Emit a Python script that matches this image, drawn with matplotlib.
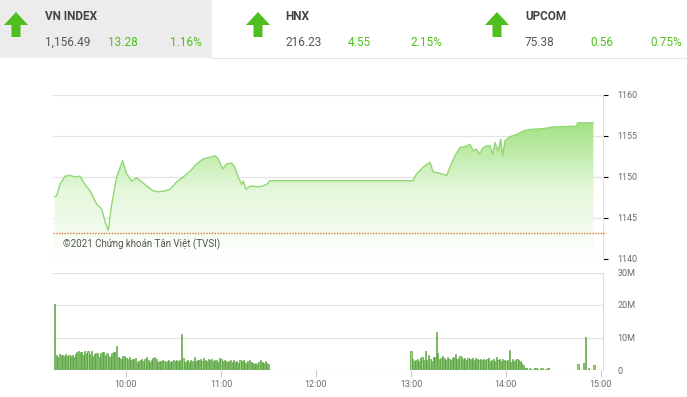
import matplotlib.pyplot as plt
import matplotlib.patches as patches
import numpy as np

plt.rcParams['font.family'] = ['Roboto', 'DejaVu Sans']

# ---- data ----
# minutes after 09:00 and index level
t_price = [15, 16.2, 18.3, 21.5, 24.6, 27.8, 30.9, 34.1, 37.3, 41.5, 44.7, 46.7, 48.8,
           51.0, 54.1, 57.9, 60.4, 63.6, 66.8, 69.9, 73.1, 77.2, 80.4, 84.6, 87.8,
           92.0, 96.2, 100.4, 104.7, 108.8, 113.1, 116.2, 118.3, 121.1, 123.6, 126.8,
           128.8, 130.9, 133.1, 134.1, 135.8, 138.3, 144.6, 148.9, 151.0, 241.3,
           243.6, 247.8, 252.0, 254.1, 257.3, 262.6, 264.6, 267.8, 271.0, 274.1,
           277.3, 279.4, 281.5, 283.2, 285.7, 287.8, 289.9, 291.6, 293.1, 295.1,
           296.7, 297.9, 299.4, 302.5, 306.8, 310.9, 315.2, 323.6, 329.9, 344.7,
           345.1, 355.2]
price = [1147.6, 1147.7, 1149.1, 1150.1, 1150.2, 1150.0, 1150.1, 1149.1, 1148.3, 1146.7,
         1146.1, 1144.6, 1143.5, 1146.7, 1150.0, 1152.0, 1150.4, 1149.5, 1149.9, 1149.4,
         1148.9, 1148.3, 1148.2, 1148.3, 1148.5, 1149.4, 1150.0, 1150.7, 1151.6, 1152.2,
         1152.4, 1152.6, 1152.2, 1151.0, 1151.6, 1151.7, 1151.2, 1150.0, 1149.1, 1149.5,
         1148.5, 1148.9, 1148.8, 1149.1, 1149.55, 1149.55, 1150.4, 1151.2, 1151.8, 1150.6,
         1150.5, 1150.2, 1151.2, 1152.6, 1153.6, 1153.7, 1154.0, 1153.2, 1153.4, 1152.8,
         1153.6, 1153.8, 1153.8, 1152.8, 1154.2, 1153.2, 1154.6, 1152.6, 1154.4, 1154.9,
         1155.2, 1155.6, 1155.8, 1155.9, 1156.1, 1156.2, 1156.6, 1156.6]
ref_level = 1143.21

# volume in millions, one bar per minute
vol_morning = [20.3, 4.5, 4.0, 4.8, 4.6, 4.7, 4.2, 4.9, 4.4, 4.6,
               4.3, 4.5, 4.1, 4.8, 5.5, 5.7, 5.6, 5.4, 4.7, 6.0,
               5.2, 5.8, 5.0, 5.7, 4.3, 4.9, 5.1, 5.2, 4.0, 5.2,
               5.5, 5.6, 4.6, 5.1, 4.4, 4.0, 5.3, 5.6, 5.4, 7.3,
               4.0, 3.8, 3.5, 4.2, 4.4, 3.6, 3.3, 3.9, 3.1, 3.4,
               3.3, 3.6, 2.5, 2.9, 3.1, 3.4, 2.7, 3.5, 4.0, 3.1,
               2.6, 3.2, 3.7, 4.1, 3.5, 2.4, 2.8, 2.7, 3.0, 2.9,
               2.5, 2.9, 3.2, 2.6, 2.9, 3.0, 2.8, 3.1, 2.7, 3.2,
               11.2, 3.8, 2.5, 2.9, 3.2, 2.6, 3.0, 2.8, 3.9, 2.7,
               3.2, 3.0, 3.5, 2.9, 3.6, 3.1, 2.8, 3.3, 3.0, 3.4,
               2.9, 3.2, 3.0, 2.6, 3.7, 3.4, 2.8, 3.1, 2.7, 2.5,
               2.9, 3.2, 2.4, 3.0, 2.6, 2.8, 2.3, 3.1, 2.7, 3.2,
               2.6, 2.2, 2.9, 3.0, 2.5, 2.1, 2.0, 2.3, 1.9, 2.4,
               3.1, 2.6, 2.3, 2.8, 2.2, 1.8]
vol_afternoon = [6.0, 3.3, 2.8, 3.0, 3.5, 2.9, 3.6, 4.0, 3.2, 5.7,
                 3.1, 4.6, 3.4, 2.8, 3.9, 4.1, 11.6, 5.2, 3.5, 3.8,
                 4.3, 3.6, 3.2, 4.0, 3.5, 3.0, 3.7, 4.1, 4.9, 3.4,
                 3.8, 4.2, 3.9, 3.3, 3.6, 3.2, 3.7, 3.5, 3.4, 3.8,
                 3.1, 3.6, 3.3, 3.0, 3.5, 3.2, 3.4, 3.0, 3.3, 3.6,
                 2.9, 3.2, 3.5, 2.8, 3.9, 3.1, 3.4, 2.7, 3.3, 3.0,
                 2.8, 3.1, 6.2, 2.6, 3.3, 2.8, 3.1, 3.4, 3.0, 2.7,
                 2.2, 1.4, 0.6, 0.5, 0.0, 0.6, 0.4, 0.0, 0.5, 0.7,
                 0.3, 0.0, 0.5, 0.6, 0.0, 0.4, 0.5, 0.7]
t_late = [345.5, 349.0, 350.5, 352.4, 355.6]
vol_late = [1.9, 2.1, 10.2, 0.5, 1.6]

hour_ticks = [60, 120, 180, 240, 300, 360]
hour_labels = ["10:00", "11:00", "12:00", "13:00", "14:00", "15:00"]
price_ticks = [1140, 1145, 1150, 1155, 1160]
vol_ticks = [0, 10, 20, 30]
vol_labels = ["0", "10M", "20M", "30M"]

indices = [("VN INDEX", "1,156.49", "13.28", "1.16%"),
           ("HNX", "216.23", "4.55", "2.15%"),
           ("UPCOM", "75.38", "0.56", "0.75%")]

# ---- figure ----
W, H = 687, 397
fig = plt.figure(figsize=(W / 100, H / 100), dpi=100)
fig.patch.set_facecolor("white")


def fx(x):
    return x / W


def fy(y):
    return 1 - y / H


GREEN = "#4fbf1f"
GRID = "#e3e3e3"
LABEL = "#6b6b6b"

# header
fig.patches.append(patches.Rectangle((0, fy(58)), fx(212), 58 / H, transform=fig.transFigure,
                                     facecolor="#ececec", edgecolor="none", zorder=0))
fig.add_artist(plt.Line2D([fx(212), 1], [fy(58), fy(58)], color="#e6e6e6", lw=0.8))
arrow_x = [16, 258, 497]
name_x = [45, 285, 525]
chg_x = [108, 348, 590]
pct_x = [202, 442, 682]
for (name, val, chg, pct), ax_, nx, cx, px in zip(indices, arrow_x, name_x, chg_x, pct_x):
    pts = [(ax_, 12), (ax_ + 12, 25), (ax_ + 4.5, 25), (ax_ + 4.5, 37),
           (ax_ - 4.5, 37), (ax_ - 4.5, 25), (ax_ - 12, 25)]
    fig.patches.append(patches.Polygon([(fx(a), fy(b)) for a, b in pts], closed=True,
                                       transform=fig.transFigure, facecolor=GREEN,
                                       edgecolor="none"))
    fig.text(fx(nx), fy(17), name, fontsize=8.5, fontweight="bold",
             color="#444444", va="center", ha="left")
    fig.text(fx(nx), fy(42), val, fontsize=8.5, color="#555555",
             va="center", ha="left")
    fig.text(fx(cx), fy(42), chg, fontsize=8.5, color=GREEN,
             va="center", ha="left")
    fig.text(fx(px), fy(42), pct, fontsize=8.5, color=GREEN,
             va="center", ha="right")

xlim = (13.9, 361.3)

# price panel
ax = fig.add_axes([fx(53), fy(259), fx(603) - fx(53), (259 - 95) / H])
ax.set_xlim(*xlim)
ax.set_ylim(1140, 1160)
for lv in price_ticks:
    ax.axhline(lv, color=GRID, lw=0.9, zorder=0)
poly = ax.fill_between(t_price, price, 1140, color="none", lw=0)
grad = np.linspace(0, 1, 256).reshape(-1, 1)
img = ax.imshow(grad, extent=[xlim[0], xlim[1], 1140, 1157], origin="lower", aspect="auto",
                cmap=plt.matplotlib.colors.LinearSegmentedColormap.from_list(
                    "g", ["#ffffff", "#e4f7da", "#9fe17f"]), zorder=1)
path = poly.get_paths()[0]
img.set_clip_path(path, transform=ax.transData)
ax.plot(t_price, price, color="#92d873", lw=1.0, zorder=2)
ax.axhline(ref_level, color="#d9763a", lw=1.0, ls=(0, (1, 1)), zorder=3, clip_on=False,
           xmax=1.005)
ax.set_ylim(1140, 1160)
ax.text(0.018, 0.055, "©2021 Chứng khoán Tân Việt (TVSI)", transform=ax.transAxes,
        fontsize=7, color="#555555", va="bottom", ha="left")
for s in ["top", "left", "bottom"]:
    ax.spines[s].set_visible(False)
ax.spines["right"].set_color("#dddddd")
ax.tick_params(left=False, bottom=False, labelbottom=False, right=False, labelright=True,
               labelleft=False, labelsize=6.5, labelcolor=LABEL, pad=7)
ax.yaxis.set_ticks_position("right")
ax.set_yticks(price_ticks)
ax.set_xticks([])

# volume panel
vx = fig.add_axes([fx(53), fy(370), fx(603) - fx(53), (370 - 272.5) / H])
vx.set_xlim(*xlim)
vx.set_ylim(0, 30)
for lv in vol_ticks:
    vx.axhline(lv, color=GRID, lw=0.9, zorder=0)
t_m = np.arange(len(vol_morning)) + 15
t_a = np.arange(len(vol_afternoon)) + 240
for tt, vv in [(t_m, vol_morning), (t_a, vol_afternoon), (t_late, vol_late)]:
    vx.bar(tt, vv, width=0.7, facecolor="#9ada7a", edgecolor="#3e8f25", lw=0.4, zorder=2)
for s in ["top", "left", "bottom"]:
    vx.spines[s].set_visible(False)
vx.spines["right"].set_color("#dddddd")
vx.set_yticks(vol_ticks)
vx.set_yticklabels(vol_labels)
vx.set_xticks(hour_ticks)
vx.set_xticklabels(hour_labels)
vx.tick_params(axis="y", left=False, right=False, labelleft=False, labelright=True,
               labelsize=6.5, labelcolor=LABEL, pad=7)
vx.tick_params(axis="x", length=5, width=0.8, color="#cccccc", labelsize=6.5,
               labelcolor=LABEL, pad=2, direction="out")

fig.savefig("out.png", dpi=100)
